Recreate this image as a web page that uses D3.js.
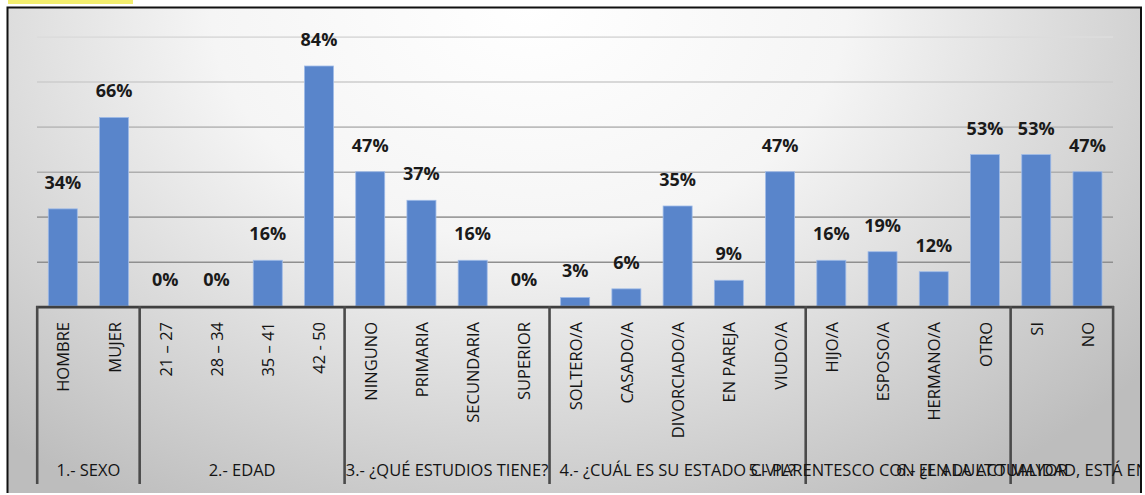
<!DOCTYPE html>
<html>
<head>
<meta charset="utf-8">
<script src="https://cdn.jsdelivr.net/npm/d3@7"></script>
<style>
	html, body { margin: 0; padding: 0; background: #fff; }
	svg { display: block; }
	text { font-family: 'Open Sans', sans-serif; }
</style>
</head>
<body>
<svg id="chart" width="1145" height="495"></svg>
<script>
// survey answers, one bar each, grouped by question
const categories = ['HOMBRE', 'MUJER', '21 – 27', '28 – 34', '35 – 41', '42 - 50',
	'NINGUNO', 'PRIMARIA', 'SECUNDARIA', 'SUPERIOR',
	'SOLTERO/A', 'CASADO/A', 'DIVORCIADO/A', 'EN PAREJA', 'VIUDO/A',
	'HIJO/A', 'ESPOSO/A', 'HERMANO/A', 'OTRO', 'SI', 'NO']
const values = [34, 66, 0, 0, 16, 84,
	47, 37, 16, 0,
	3, 6, 35, 9, 47,
	16, 19, 12, 53, 53, 47]
const groups = ['1.- SEXO', '2.- EDAD', '3.- ¿QUÉ ESTUDIOS TIENE?', '4.- ¿CUÁL ES SU ESTADO CIVIL?',
	'5.- PARENTESCO CON EL ADULTO MAYOR', '6.- ¿EN LA ACTUALIDAD, ESTÁ ENFERMO/A?']
const groupSizes = [2, 4, 4, 5, 4, 2]
const gridValues = [15.3, 31.1, 46.8, 62.6, 78.4, 94.1] // no tick labels shown

const svg = d3.select('#chart')
const defs = svg.append('defs')

// soft gray background, white round the top middle
const grad = defs.append('radialGradient').attr('id', 'bg')
	.attr('cx', '46%').attr('cy', '0%').attr('r', '70%')
	.attr('gradientTransform', 'translate(0.46 0) scale(1 1.7) translate(-0.46 0)')
grad.append('stop').attr('offset', '0%').attr('stop-color', '#ffffff')
grad.append('stop').attr('offset', '40%').attr('stop-color', '#f5f5f5')
grad.append('stop').attr('offset', '100%').attr('stop-color', '#bdbdbd')

defs.append('clipPath').attr('id', 'frameclip')
	.append('rect').attr('x', 8).attr('y', 8).attr('width', 1132).attr('height', 486)

// yellow bit of the sheet poking out above the picture
svg.append('rect').attr('x', 8).attr('y', 0).attr('width', 125).attr('height', 4).attr('fill', '#f3ee6e')

svg.append('rect').attr('x', 7).attr('y', 7).attr('width', 1134).attr('height', 486)
	.attr('fill', 'url(#bg)')
svg.append('path').attr('d', 'M7.5,493 V7.5 H1141 V493')
	.attr('fill', 'none').attr('stroke', '#111').attr('stroke-width', 2)

const x = d3.scaleBand().domain(categories).range([37.2, 1113.1]).paddingInner(0.434).paddingOuter(0.217)
const y = d3.scaleLinear().domain([0, 100]).range([306, 20.3])

// gridlines get darker further down (follows the background shading)
const gridColor = d3.scaleLinear().domain([gridValues[0], gridValues[gridValues.length - 1]]).range(['#8f8f8f', '#dcdcdc'])
svg.append('g').selectAll('line').data(gridValues).join('line')
	.attr('x1', 37).attr('x2', 1113)
	.attr('y1', d => y(d)).attr('y2', d => y(d))
	.attr('stroke', d => gridColor(d)).attr('stroke-width', 1.6)

svg.append('g').selectAll('rect').data(values).join('rect')
	.attr('x', (d, i) => x(categories[i]))
	.attr('width', x.bandwidth())
	.attr('y', d => y(d))
	.attr('height', d => y(0) - y(d))
	.attr('fill', '#5985cb')
	.attr('stroke', '#9fbbe8').attr('stroke-width', 0.8)

svg.append('g').selectAll('text').data(values).join('text')
	.attr('x', (d, i) => x(categories[i]) + x.bandwidth() / 2)
	.attr('y', d => y(d) - 20)
	.attr('text-anchor', 'middle')
	.attr('font-size', 18).attr('font-weight', 700).attr('fill', '#1a1a1a')
	.text(d => d + '%')

// category axis
svg.append('line').attr('x1', 36).attr('x2', 1114).attr('y1', 307.2).attr('y2', 307.2)
	.attr('stroke', '#3f3f3f').attr('stroke-width', 2.8)

svg.append('g').selectAll('text').data(categories).join('text')
	.attr('transform', d => `translate(${x(d) + x.bandwidth() / 2},322) rotate(-90)`)
	.attr('text-anchor', 'end')
	.attr('dominant-baseline', 'central')
	.attr('font-size', 16.5).attr('fill', '#141414')
	.text(d => d)

// group dividers and question titles
const bounds = []
let k = 0
groupSizes.forEach(n => { bounds.push([k, k + n]); k += n })
const edge = i => i < categories.length ? x(categories[i]) - x.step() * x.paddingInner() / 2 : x.range()[1]

svg.append('g').selectAll('line').data([0, ...bounds.map(b => b[1])]).join('line')
	.attr('x1', d => edge(d)).attr('x2', d => edge(d))
	.attr('y1', 306).attr('y2', 484)
	.attr('stroke', '#4a4a4a').attr('stroke-width', 2.6)

// titles overlap and the last one runs off the frame, as in the original
svg.append('g').attr('clip-path', 'url(#frameclip)')
	.selectAll('text').data(groups).join('text')
	.attr('x', (d, i) => (edge(bounds[i][0]) + edge(bounds[i][1])) / 2)
	.attr('y', 476)
	.attr('text-anchor', 'middle')
	.attr('font-size', 16.5).attr('fill', '#141414')
	.text(d => d)
</script>
</body>
</html>
